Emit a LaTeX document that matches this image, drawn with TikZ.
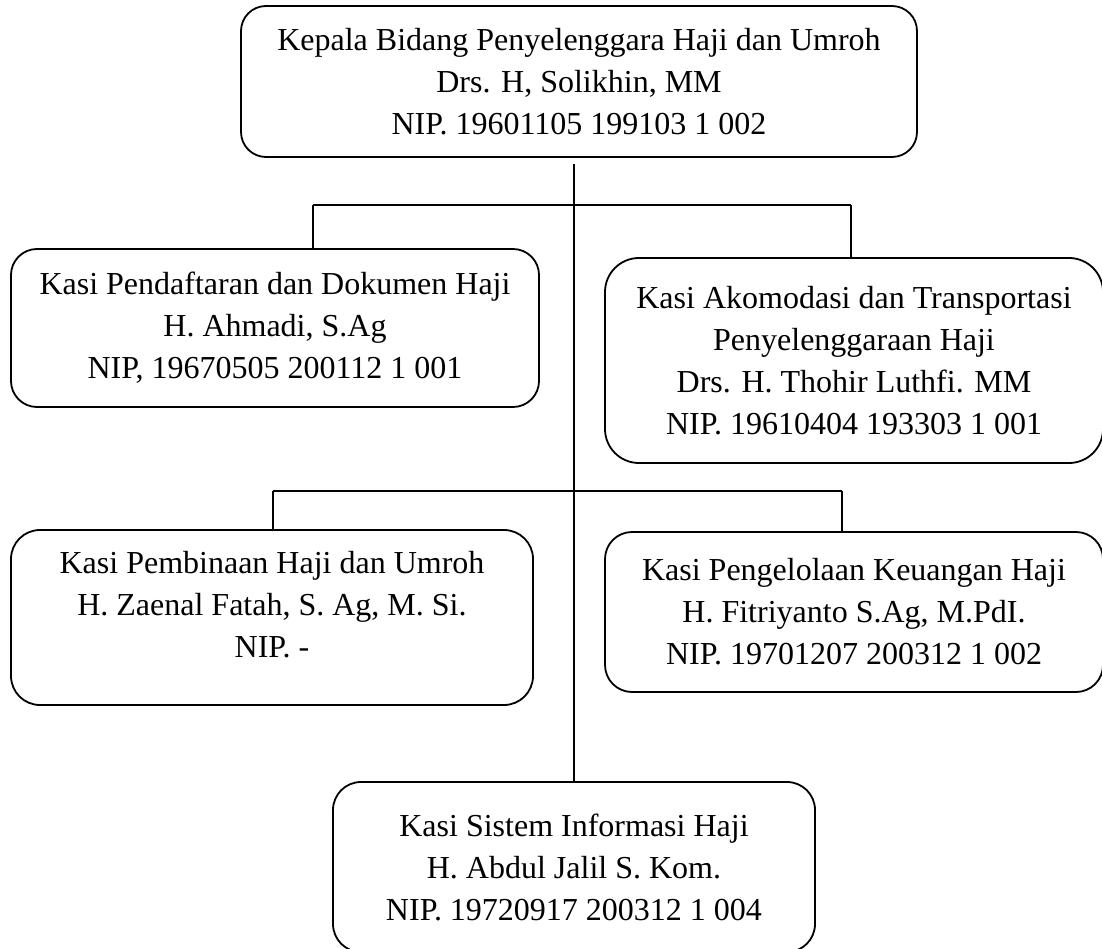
\documentclass[tikz,border=0pt]{standalone}
\usepackage{fontspec}
\setmainfont{Liberation Serif}

\begin{document}
\begin{tikzpicture}[x=1pt, y=-1pt, line width=1.8pt,
  box/.style={draw, align=center, inner sep=0pt, font=\fontsize{32}{42}\selectfont}]
  \useasboundingbox (0,0) rectangle (1102,949);
  \node (kabid) [box, minimum width=676pt, minimum height=151pt, rounded corners=25pt] at (579,81.5)
  {Kepala Bidang Penyelenggara Haji dan Umroh\\ Drs. H, Solikhin, MM\\ NIP. 19601105 199103 1 002};
  \node (daftar) [box, minimum width=528pt, minimum height=158pt, rounded corners=26pt] at (275,328)
  {Kasi Pendaftaran dan Dokumen Haji\\ H. Ahmadi, S.Ag\\ NIP, 19670505 200112 1 001};
  \node (akomodasi) [box, minimum width=498pt, minimum height=205pt, rounded corners=34pt] at (854,360.5)
  {Kasi Akomodasi dan Transportasi\\ Penyelenggaraan Haji\\ Drs. H. Thohir Luthfi. MM\\ NIP. 19610404 193303 1 001};
  \node (pembinaan) [box, minimum width=522pt, minimum height=175pt, rounded corners=29pt] at (272,617.5)
  {Kasi Pembinaan Haji dan Umroh\\ H. Zaenal Fatah, S. Ag, M. Si.\\ NIP. -\\[-16pt]\mbox{}};
  \node (keuangan) [box, minimum width=498pt, minimum height=160pt, rounded corners=27pt] at (854,612)
  {Kasi Pengelolaan Keuangan Haji\\ H. Fitriyanto S.Ag, M.PdI.\\ NIP. 19701207 200312 1 002};
  \node (sistem) [box, minimum width=482pt, minimum height=170pt, rounded corners=28pt] at (574,867)
  {Kasi Sistem Informasi Haji\\ H. Abdul Jalil S. Kom.\\ NIP. 19720917 200312 1 004};
  \coordinate (a1) at (313,205);
  \coordinate (a2) at (851,205);
  \coordinate (b1) at (273,491);
  \coordinate (b2) at (842,491);
  \path
  ([yshift=-6pt]kabid.south -| sistem.north) edge (sistem.north)
  (a1) edge (a2)
  (a1) edge (a1 |- daftar.north)
  (a2) edge (a2 |- akomodasi.north)
  (b1) edge (b2)
  (b1) edge (b1 |- pembinaan.north)
  (b2) edge (b2 |- keuangan.north)
  ;
\end{tikzpicture}
\end{document}
